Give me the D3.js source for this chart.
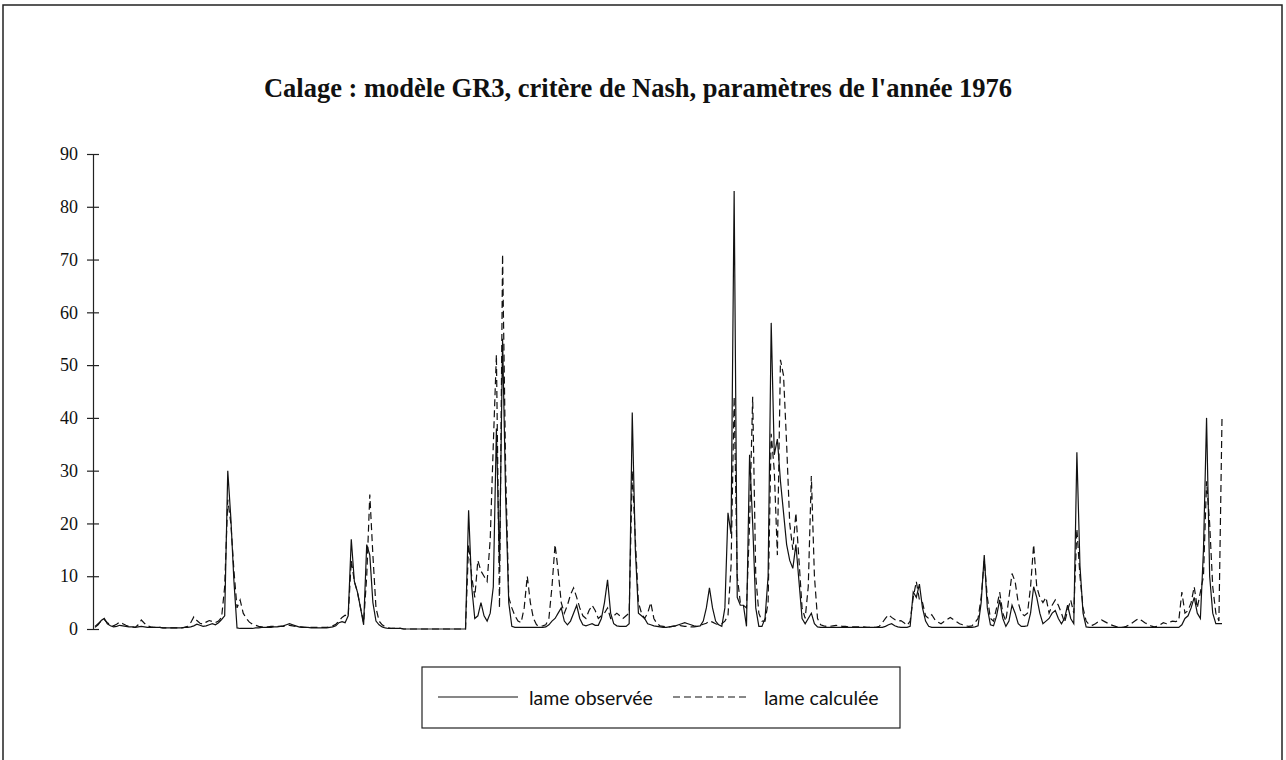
<!DOCTYPE html>
<html lang="fr">
<head>
    <meta charset="UTF-8">
    <title>Calage GR3 1976</title>
    <script src="https://d3js.org/d3.v7.min.js"></script>
    <style>
        body { margin: 0; background: #fff; }
        .title { font-family: "Liberation Serif", "Times New Roman", serif; font-weight: bold; font-size: 26.5px; fill: #111; }
        .tick text { font-family: "Liberation Serif", "Times New Roman", serif; font-size: 18px; fill: #111; }
        .legend text { font-family: Lato, "Open Sans", sans-serif; font-size: 19.5px; fill: #111; }
    </style>
</head>
<body>
<script>
    // lame observée (mm), one value per day
    var observee = [
        0.3,0.8,1.6,2,1,0.6,0.4,0.5,0.7,0.6,
        0.5,0.4,0.4,0.3,0.4,0.5,0.4,0.3,0.3,0.3,
        0.3,0.3,0.2,0.2,0.2,0.2,0.2,0.2,0.2,0.3,
        0.3,0.4,0.6,0.9,0.7,0.5,0.6,0.8,1,0.8,
        1.2,1.8,2.5,30,21,9,0.2,0.1,0.1,0.1,
        0.1,0.1,0.2,0.2,0.3,0.3,0.3,0.3,0.4,0.4,
        0.5,0.6,0.8,1,0.8,0.6,0.4,0.3,0.3,0.3,
        0.2,0.2,0.2,0.2,0.2,0.2,0.3,0.4,0.6,1.2,
        1.4,1.2,2.5,17,9,7,4,0.8,16,14,
        5,1.5,0.8,0.4,0.2,0.1,0.1,0.1,0.1,0.1,
        0,0,0,0,0,0,0,0,0,0,
        0,0,0,0,0,0,0,0,0,0,
        0,22.5,8,2,2.5,5,2.5,1.5,3,8,
        38,12,55,25,5,0.5,0.3,0.3,0.3,0.3,
        0.3,0.3,0.3,0.3,0.3,0.3,0.4,0.8,1.5,2,
        3,4,1.5,0.8,1.5,3,4.5,2,0.8,0.6,
        0.8,1,0.7,0.7,2,5,9.3,3,1,0.6,
        0.5,0.5,0.5,1,41,15,3,2.5,2,1,
        0.8,0.6,0.5,0.4,0.3,0.3,0.4,0.5,0.6,0.8,
        1,1.2,1,0.8,0.6,0.5,0.6,1.5,4,7.8,
        4,1.5,0.8,0.5,4,22,18,83,6,4.5,
        4.5,0.5,33,20,4,0.5,0.5,2,10,58,
        33,36,28,22,16,13,11.5,16,9,2,
        1,2,3,1,0.4,0.3,0.3,0.3,0.3,0.3,
        0.3,0.3,0.3,0.3,0.3,0.3,0.3,0.3,0.3,0.3,
        0.3,0.3,0.3,0.3,0.3,0.3,0.5,0.8,1,0.6,
        0.4,0.3,0.3,0.3,0.5,7,6,8.5,4,1.5,
        0.5,0.3,0.3,0.3,0.3,0.3,0.3,0.3,0.3,0.3,
        0.3,0.3,0.3,0.3,0.3,0.4,0.6,5,14,4,
        0.8,0.6,2.5,5.5,2,0.5,1.5,4.5,3,1,
        0.5,0.5,0.6,3,8,6,3,1,1.5,2,
        3,3.5,2,1,2,4.5,2,1,33.5,12,
        3,0.4,0.3,0.3,0.3,0.3,0.3,0.3,0.3,0.3,
        0.3,0.3,0.3,0.3,0.3,0.3,0.3,0.3,0.3,0.3,
        0.3,0.3,0.3,0.3,0.3,0.3,0.3,0.3,0.3,0.3,
        0.3,0.3,0.8,2,2.5,4,6,3,2,15,
        40,10,3,1,1,1
    ];

    // lame calculée (mm)
    var calculee = [
        0.5,1,1.5,1.8,1.2,0.8,0.6,0.9,1.3,1,
        0.7,0.5,0.4,0.3,0.8,1.7,1.1,0.6,0.4,0.3,
        0.3,0.3,0.2,0.2,0.2,0.2,0.2,0.2,0.2,0.3,
        0.5,1.2,2.3,1.6,1.1,0.9,1.3,1.6,1.4,1.2,
        1.5,2.2,8,24.5,20,11,4,5.5,3,2,
        1.3,0.9,0.7,0.5,0.4,0.4,0.4,0.5,0.5,0.5,
        0.5,0.5,0.6,0.7,0.6,0.5,0.4,0.4,0.3,0.3,
        0.3,0.3,0.3,0.3,0.3,0.3,0.4,0.6,0.9,1.5,
        2.2,2.6,2.4,13,9,7,4,1.2,10,25.5,
        14,4,1.5,0.8,0.4,0.2,0.1,0.1,0.1,0.1,
        0,0,0,0,0,0,0,0,0,0,
        0,0,0,0,0,0,0,0,0,0,
        0,16,10,6,13,11,10,9,17,35,
        52,4,71,30,6,4,2.5,1.5,1.2,4,
        10,5,2,0.8,0.5,0.6,0.8,2,8,16,
        11,5,3,4.5,6.5,7.8,6,4,2.5,2,
        3.5,4.5,3.5,2,2.5,3,4,2,2.5,3,
        2.5,2,2.5,3,30,17,5,3,2,3,
        5,2,1,0.6,0.5,0.4,0.4,0.5,0.6,0.7,
        0.6,0.5,0.5,0.4,0.4,0.5,0.7,0.9,1.1,1.5,
        1.3,1,0.8,1,1.5,2.5,12,44,10,5,
        4.5,4,20,44,10,3,1.5,1.5,5,37,
        30,14,51,48,35,20,15,22,13,4,
        2,8,29,10,2,0.8,0.6,0.5,0.5,0.6,
        0.7,0.6,0.5,0.5,0.4,0.4,0.4,0.4,0.4,0.4,
        0.3,0.3,0.3,0.3,0.5,1.2,2,2.7,2.2,1.8,
        1.5,1.6,1.2,0.7,1.5,6,9,5.5,5,2.5,
        2,2.7,1.8,1.3,1,1.4,1.8,2.2,1.8,1.4,
        1,0.8,0.6,0.5,0.6,1.2,2,6,13,6,
        2,1.5,4,7,3,1.5,6,10.5,9,5,
        3,2.5,3,8,16,8,6,5,6,3,
        4.5,5.5,4.5,3,1.2,3.5,5.5,3,19,10,
        4,1.5,0.8,0.7,1,1.4,1.7,1.4,1.1,0.8,
        0.6,0.4,0.3,0.3,0.5,0.8,1.2,1.6,2,1.6,
        1.2,0.9,0.6,0.4,0.5,0.8,1.2,1,1.3,1.5,
        1.4,1.6,7,3,3.5,5,8,4,7,10,
        28,20,8,3,1.5,40
    ];

    var yTicks = [0, 10, 20, 30, 40, 50, 60, 70, 80, 90];
    var titre = "Calage : modèle GR3, critère de Nash, paramètres de l'année 1976";
    var series = [
        { name: "lame observée", values: observee, dash: null },
        { name: "lame calculée", values: calculee, dash: "7,4" }
    ];

    var width = 1286, height = 760;

    var svg = d3.select("body").append("svg")
        .attr("width", width)
        .attr("height", height);

    // outer frame
    svg.append("rect")
        .attr("x", 3).attr("y", 5)
        .attr("width", 1279).attr("height", 762)
        .attr("fill", "none").attr("stroke", "#222").attr("stroke-width", 1.5);

    svg.append("text")
        .attr("class", "title")
        .attr("x", 638).attr("y", 97)
        .attr("text-anchor", "middle")
        .text(titre);

    var x = d3.scaleLinear().domain([0, observee.length - 1]).range([95, 1222]);
    var y = d3.scaleLinear().domain([0, 90]).range([629, 154]);

    var yAxis = svg.append("g")
        .attr("transform", "translate(93,0)")
        .call(d3.axisLeft(y).tickValues(yTicks).tickSize(6).tickPadding(9));
    yAxis.select(".domain").attr("stroke", "#222").attr("stroke-width", 1.2);
    yAxis.selectAll(".tick line").attr("x2", 6).attr("x1", -6).attr("stroke", "#222").attr("stroke-width", 1.2);

    var line = d3.line()
        .x(function(d, i) { return x(i); })
        .y(function(d) { return y(d); });

    svg.selectAll(".serie")
        .data(series)
        .enter().append("path")
        .attr("class", "serie")
        .attr("d", function(d) { return line(d.values); })
        .attr("fill", "none")
        .attr("stroke", "#111")
        .attr("stroke-width", 1.2)
        .attr("stroke-dasharray", function(d) { return d.dash; });

    // legend
    var legend = svg.append("g").attr("class", "legend");
    legend.append("rect")
        .attr("x", 422).attr("y", 667)
        .attr("width", 478).attr("height", 61)
        .attr("fill", "#fff").attr("stroke", "#222").attr("stroke-width", 1.2);

    var lx = [438, 673];
    var item = legend.selectAll(".item")
        .data(series)
        .enter().append("g")
        .attr("class", "item")
        .attr("transform", function(d, i) { return "translate(" + lx[i] + ",697)"; });
    item.append("line")
        .attr("x1", 0).attr("x2", function(d, i) { return i ? 75 : 80; })
        .attr("stroke", "#111").attr("stroke-width", 1.2)
        .attr("stroke-dasharray", function(d) { return d.dash; });
    item.append("text")
        .attr("x", 91)
        .attr("y", 8)
        .text(function(d) { return d.name; });
</script>
</body>
</html>
